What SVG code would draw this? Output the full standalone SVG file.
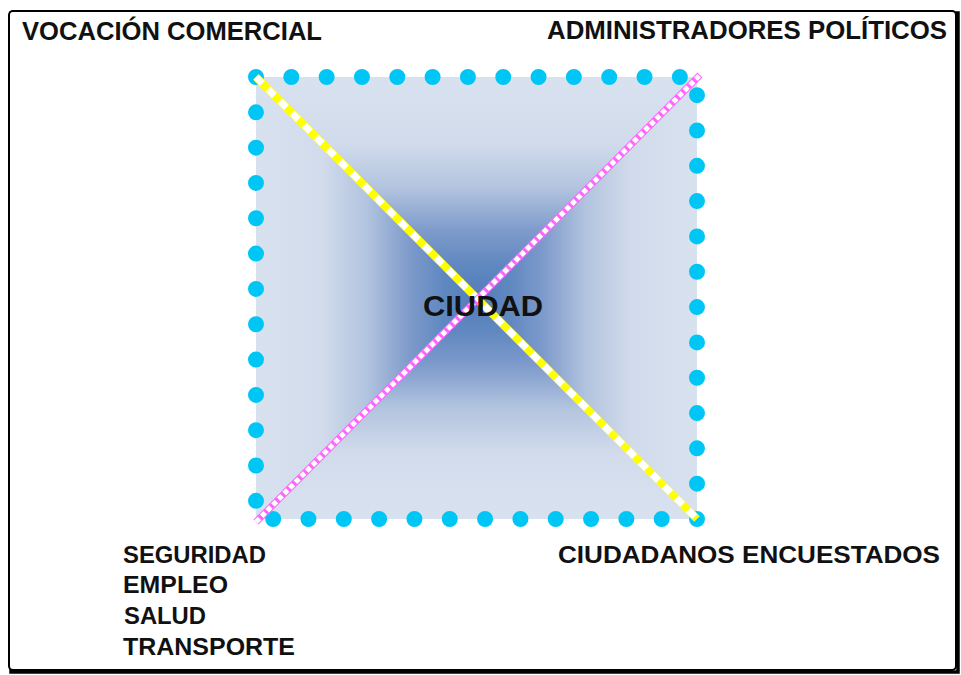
<svg xmlns="http://www.w3.org/2000/svg" width="961" height="675" viewBox="0 0 961 675">
  <style>
    .lbl { font-family: "Liberation Sans", Arial, sans-serif; font-weight: bold; font-size: 25px; fill: #111; }
    .big { font-size: 29px; }
    .small { font-size: 24px; }
  </style>
  <defs>
    <linearGradient id="gTop" gradientUnits="userSpaceOnUse" x1="0" y1="77" x2="0" y2="298">
      <stop offset="0" stop-color="#d8e2ef"/>
      <stop offset="0.3" stop-color="#d1dbeb"/>
      <stop offset="0.5" stop-color="#b3c4df"/>
      <stop offset="0.7" stop-color="#7d9acb"/>
      <stop offset="0.85" stop-color="#6088c0"/>
      <stop offset="1" stop-color="#537cba"/>
    </linearGradient>
    <linearGradient id="gBot" href="#gTop" gradientUnits="userSpaceOnUse" x1="0" y1="519" x2="0" y2="298"/>
    <linearGradient id="gLeft" href="#gTop" gradientUnits="userSpaceOnUse" x1="256" y1="0" x2="476.5" y2="0"/>
    <linearGradient id="gRight" href="#gTop" gradientUnits="userSpaceOnUse" x1="697" y1="0" x2="476.5" y2="0"/>
  </defs>

  <!-- frame -->
  <g id="frame">
    <rect x="11" y="13" width="947" height="659" fill="none" stroke="#000" stroke-width="3.5"/>
    <rect x="9" y="11" width="947" height="659" rx="4" fill="#fff" stroke="#000" stroke-width="2"/>
  </g>

  <!-- central square -->
  <g id="ciudad">
    <polygon points="256,77 697,77 476.5,298" fill="url(#gTop)"/>
    <polygon points="256,519 697,519 476.5,298" fill="url(#gBot)"/>
    <polygon points="256,77 256,519 476.5,298" fill="url(#gLeft)"/>
    <polygon points="697,77 697,519 476.5,298" fill="url(#gRight)"/>
    <path d="M256,77 H697 V519 H256 Z" fill="none" stroke="#00c6f6" stroke-width="16" stroke-linecap="round" stroke-dasharray="0 35.32"/>
  </g>

  <g id="connectors">
    <line x1="256" y1="77" x2="697" y2="519" stroke="#ffff00" stroke-width="8"/>
    <line x1="256" y1="77" x2="697" y2="519" stroke="#ffffff" stroke-width="7" stroke-dasharray="9 8"/>
    <line x1="256" y1="522" x2="700" y2="75" stroke="#ff66ff" stroke-width="7"/>
    <line x1="256" y1="522" x2="700" y2="75" stroke="#ffffff" stroke-width="5" stroke-dasharray="5 3"/>
  </g>

  <g id="label-ciudad">
    <text class="lbl big" x="423" y="316" textLength="120" lengthAdjust="spacingAndGlyphs">CIUDAD</text>
  </g>
  <g id="label-vocacion">
    <text class="lbl" x="22" y="40" textLength="300" lengthAdjust="spacingAndGlyphs">VOCACIÓN COMERCIAL</text>
  </g>
  <g id="label-administradores">
    <text class="lbl" x="547" y="39" textLength="400" lengthAdjust="spacingAndGlyphs">ADMINISTRADORES POLÍTICOS</text>
  </g>
  <g id="label-ciudadanos">
    <text class="lbl small" x="558" y="563" textLength="382" lengthAdjust="spacingAndGlyphs">CIUDADANOS ENCUESTADOS</text>
  </g>
  <g id="label-temas">
    <text class="lbl small" x="123" y="563" textLength="143" lengthAdjust="spacingAndGlyphs">SEGURIDAD</text>
    <text class="lbl small" x="123" y="593" textLength="105" lengthAdjust="spacingAndGlyphs">EMPLEO</text>
    <text class="lbl small" x="124" y="624" textLength="82" lengthAdjust="spacingAndGlyphs">SALUD</text>
    <text class="lbl small" x="123" y="655" textLength="172" lengthAdjust="spacingAndGlyphs">TRANSPORTE</text>
  </g>
</svg>
